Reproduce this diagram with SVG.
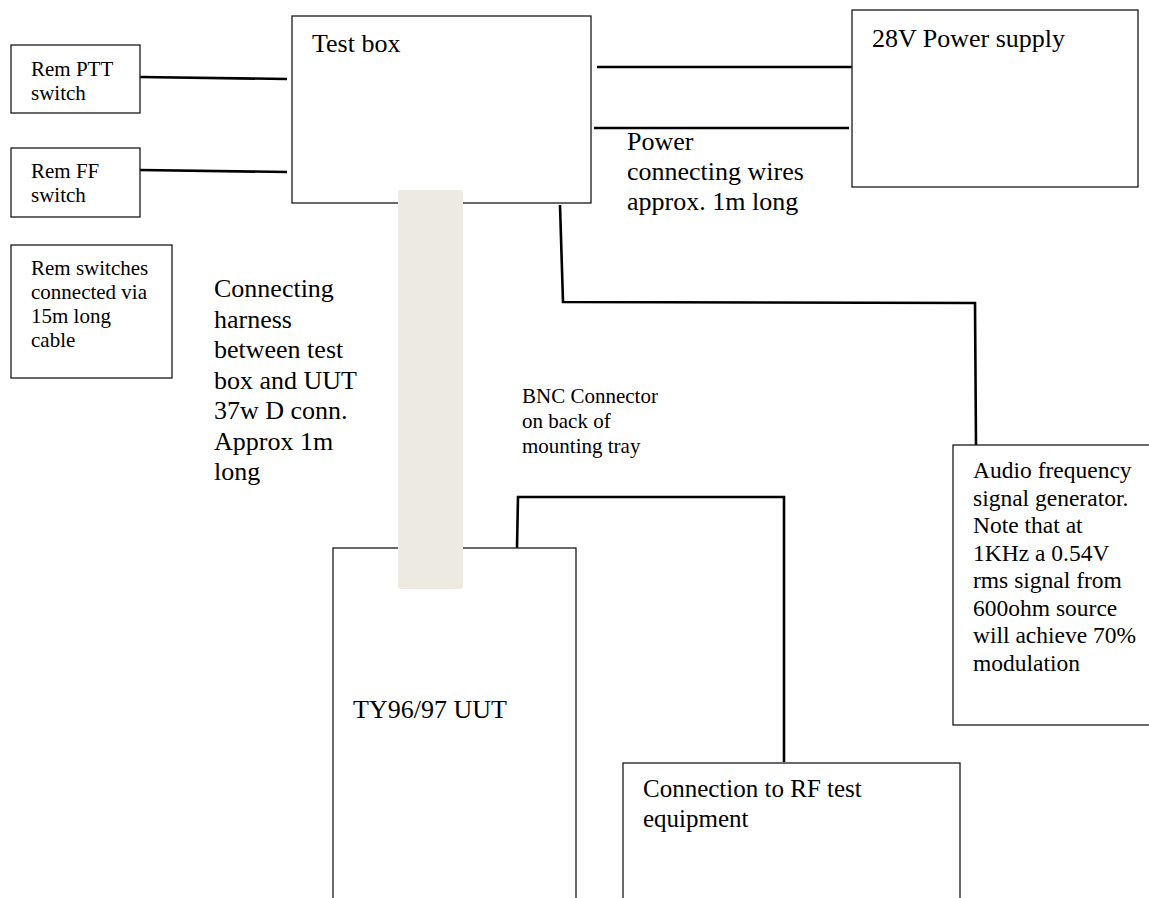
<svg xmlns="http://www.w3.org/2000/svg" width="1149" height="898" viewBox="0 0 1149 898">
<style>
.box{fill:#fff;stroke:#1a1a1a;stroke-width:1.3}
.wire{fill:none;stroke:#000;stroke-width:2.6}
text{font-family:'Liberation Serif','Times New Roman','DejaVu Serif',serif;fill:#000}
.s{font-size:21px}
.m{font-size:26px}
.a{font-size:23.5px}
.r{font-size:25px}
</style>
<rect width="1149" height="898" fill="#fff"/>
<g id="connectors">
<path class="wire" d="M140,77 L287,79"/>
<path class="wire" d="M140,170 L287,172"/>
<path class="wire" d="M597,67 L852,67"/>
<path class="wire" d="M594,128 L849,128"/>
<path class="wire" d="M560,205 L563,302 L975,303 L976,445"/>
<path class="wire" d="M517,548 L518,497 L784,497 L784,762"/>
</g>
<g id="rem-ptt" font-family="Liberation Serif, serif">
<rect class="box" x="11" y="45" width="129" height="68"/>
<text class="s" x="31" y="76">Rem PTT</text>
<text class="s" x="31" y="100">switch</text>
</g>
<g id="rem-ff" font-family="Liberation Serif, serif">
<rect class="box" x="11" y="148" width="129" height="69"/>
<text class="s" x="31" y="178">Rem FF</text>
<text class="s" x="31" y="202">switch</text>
</g>
<g id="rem-note" font-family="Liberation Serif, serif">
<rect class="box" x="11" y="245" width="161" height="133"/>
<text class="s" x="31" y="275">Rem switches</text>
<text class="s" x="31" y="299">connected via</text>
<text class="s" x="31" y="323">15m long</text>
<text class="s" x="31" y="347">cable</text>
</g>
<g id="test-box" font-family="Liberation Serif, serif">
<rect class="box" x="292" y="16" width="299" height="187"/>
<text class="m" x="312" y="52">Test box</text>
</g>
<g id="power-supply" font-family="Liberation Serif, serif">
<rect class="box" x="852" y="10" width="286" height="177"/>
<text class="m" x="872" y="47">28V Power supply</text>
</g>
<g id="power-label" font-family="Liberation Serif, serif">
<text class="m" x="627" y="150">Power</text>
<text class="m" x="627" y="180">connecting wires</text>
<text class="m" x="627" y="210">approx. 1m long</text>
</g>
<g id="harness-label" font-family="Liberation Serif, serif">
<text class="m" x="214" y="297">Connecting</text>
<text class="m" x="214" y="327.5">harness</text>
<text class="m" x="214" y="358">between test</text>
<text class="m" x="214" y="388.5">box and UUT</text>
<text class="m" x="214" y="419">37w D conn.</text>
<text class="m" x="214" y="449.5">Approx 1m</text>
<text class="m" x="214" y="480">long</text>
</g>
<g id="bnc-label" font-family="Liberation Serif, serif">
<text class="s" x="522" y="403">BNC Connector</text>
<text class="s" x="522" y="428">on back of</text>
<text class="s" x="522" y="453">mounting tray</text>
</g>
<g id="audio-gen" font-family="Liberation Serif, serif">
<rect class="box" x="953" y="445" width="210" height="280"/>
<text class="a" x="973" y="478">Audio frequency</text>
<text class="a" x="973" y="505.5">signal generator.</text>
<text class="a" x="973" y="533">Note that at</text>
<text class="a" x="973" y="560.5">1KHz a 0.54V</text>
<text class="a" x="973" y="588">rms signal from</text>
<text class="a" x="973" y="615.5">600ohm source</text>
<text class="a" x="973" y="643">will achieve 70%</text>
<text class="a" x="973" y="670.5">modulation</text>
</g>
<g id="uut" font-family="Liberation Serif, serif">
<rect class="box" x="333" y="548" width="243" height="370"/>
<text class="m" x="353" y="718">TY96/97 UUT</text>
</g>
<g id="harness">
<rect x="398" y="190" width="65" height="399" rx="3" fill="#edebe1"/>
</g>
<g id="rf-equipment" font-family="Liberation Serif, serif">
<rect class="box" x="623" y="763" width="337" height="160"/>
<text class="r" x="643" y="797">Connection to RF test</text>
<text class="r" x="643" y="827">equipment</text>
</g>
</svg>
